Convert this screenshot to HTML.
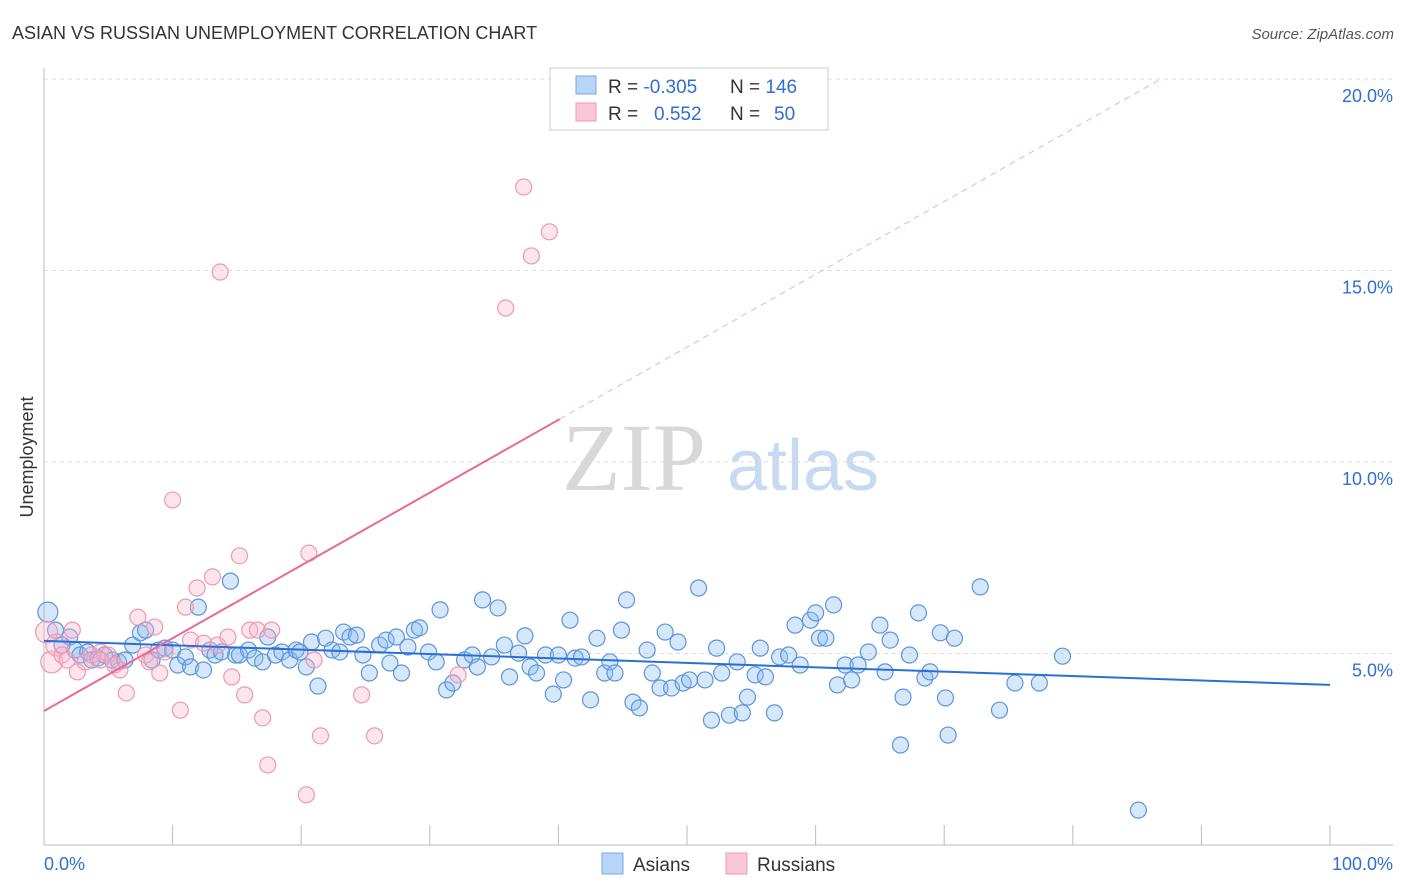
<!DOCTYPE html>
<html><head><meta charset="utf-8"><style>
html,body{margin:0;padding:0;background:#fff;}
svg{display:block;font-family:"Liberation Sans",sans-serif;}
</style></head><body>
<svg id="chart" width="1406" height="892">
<text x="12" y="39" font-size="18" fill="#333">ASIAN VS RUSSIAN UNEMPLOYMENT CORRELATION CHART</text>
<text x="1394" y="39" font-size="15" fill="#555" font-style="italic" text-anchor="end">Source: ZipAtlas.com</text>
<text transform="translate(33,457) rotate(-90)" font-size="18" fill="#333" text-anchor="middle">Unemployment</text>
<g>
<text x="634" y="490" font-size="96" font-family="Liberation Serif,serif" fill="#d8d8d8" text-anchor="middle">ZIP</text>
<text x="803" y="490" font-size="72" fill="#c7daf0" text-anchor="middle">atlas</text>
</g>
<g id="grid"></g>
<g id="axes"></g>
<g id="marks"></g>
<g>
<rect x="550" y="68" width="278" height="62" fill="#fff" stroke="#ccc"/>
<rect x="576" y="76" width="20" height="18" fill="#b8d4f6" stroke="#7aa8e0"/>
<rect x="576" y="103" width="20" height="18" fill="#f9c6d5" stroke="#ee9ab4"/>
<text x="608" y="93" font-size="19" fill="#333">R = <tspan fill="#2f6fd0">-0.305</tspan></text>
<text x="730" y="93" font-size="19" fill="#333">N = <tspan fill="#2f6fd0">146</tspan></text>
<text x="608" y="120" font-size="19" fill="#333">R = <tspan fill="#2f6fd0" x="654">0.552</tspan></text>
<text x="730" y="120" font-size="19" fill="#333">N = <tspan fill="#2f6fd0" x="774">50</tspan></text>
</g>
<g>
<rect x="602" y="853" width="21" height="21" fill="#b8d4f6" stroke="#7aa8e0"/>
<text x="633" y="871" font-size="19" fill="#333">Asians</text>
<rect x="726" y="853" width="21" height="21" fill="#f9c6d5" stroke="#ee9ab4"/>
<text x="757" y="871" font-size="19" fill="#333">Russians</text>
</g>
</svg>
<script>
const yTicks=[5,10,15,20];
const yTickLabels=["5.0%","10.0%","15.0%","20.0%"];
const xTicks=[0,10,20,30,40,50,60,70,80,90,100];
const asianX=[0.3,0.9,1.4,2.0,2.4,2.8,3.4,3.7,4.2,4.7,5.3,5.8,6.3,6.9,7.5,7.9,8.4,8.9,9.4,10.0,10.4,11.0,11.4,12.0,12.4,12.9,13.3,13.8,14.5,14.9,15.2,15.9,16.4,17.0,17.4,18.0,18.5,19.1,19.6,19.9,20.4,20.8,21.3,21.9,22.4,23.0,23.3,23.8,24.3,24.8,25.3,26.1,26.6,26.9,27.4,27.8,28.3,28.8,29.2,29.9,30.5,30.8,31.3,31.8,32.7,33.3,33.7,34.1,34.8,35.3,35.8,36.2,36.9,37.4,37.8,38.3,39.0,39.6,40.0,40.4,40.9,41.3,41.8,42.5,43.0,43.6,44.0,44.4,44.9,45.3,45.8,46.3,46.9,47.3,47.9,48.3,48.8,49.3,49.7,50.2,50.9,51.4,51.9,52.3,52.7,53.3,53.9,54.3,54.7,55.3,55.7,56.1,56.8,57.2,57.9,58.4,58.8,59.6,60.0,60.3,60.8,61.4,61.7,62.3,62.8,63.3,64.1,65.0,65.4,65.8,66.6,66.8,67.3,68.0,68.5,68.9,69.7,70.1,70.3,70.8,72.8,74.3,75.5,77.4,79.2,85.1];
const asianY=[6.08,5.61,5.22,5.43,5.09,4.96,5.04,4.83,4.88,4.96,4.83,4.78,4.83,5.22,5.54,5.61,4.83,5.09,5.14,5.09,4.70,4.91,4.65,6.21,4.57,5.09,4.96,5.04,6.89,4.96,4.96,5.09,4.88,4.78,5.43,4.96,5.04,4.83,5.09,5.04,4.65,5.30,4.15,5.40,5.09,5.04,5.56,5.43,5.48,4.96,4.49,5.22,5.35,4.75,5.43,4.49,5.17,5.61,5.67,5.04,4.78,6.14,4.05,4.23,4.83,4.96,4.65,6.40,4.91,6.19,5.22,4.39,5.01,5.46,4.65,4.49,4.96,3.94,4.96,4.31,5.87,4.88,4.91,3.79,5.40,4.49,4.78,4.49,5.61,6.40,3.73,3.58,5.09,4.49,4.10,5.56,4.10,5.30,4.23,4.31,6.71,4.31,3.26,5.14,4.49,3.39,4.78,3.45,3.86,4.44,5.14,4.39,3.45,4.91,4.96,5.74,4.70,5.87,6.06,5.40,5.40,6.27,4.18,4.70,4.31,4.70,5.04,5.74,4.52,5.35,2.61,3.86,4.96,6.06,4.36,4.52,5.54,3.84,2.87,5.40,6.74,3.52,4.23,4.23,4.93,0.91];
const russX=[0.2,0.6,1.0,1.4,1.8,2.2,2.6,3.2,3.7,4.4,5.0,5.5,5.9,6.4,7.3,7.9,8.2,8.6,9.0,9.4,10.0,10.6,11.0,11.4,11.9,12.4,13.1,13.5,13.7,14.3,14.6,15.2,15.6,16.0,16.6,17.0,17.4,17.7,20.4,20.6,21.0,21.5,24.7,25.7,32.2,35.9,37.3,37.9,39.3,4.4];
const russY=[5.56,4.78,5.22,4.96,4.83,5.61,4.52,4.78,4.96,5.04,4.96,4.70,4.57,3.97,5.95,4.96,4.78,5.69,4.49,5.04,9.01,3.52,6.21,5.35,6.71,5.27,7.00,5.22,14.96,5.43,4.39,7.55,3.92,5.61,5.61,3.32,2.09,5.61,1.31,7.62,4.83,2.85,3.92,2.85,4.44,14.02,17.18,15.38,16.01,4.83];
const asianTrend=[5.33,4.18];
const russTrend=[3.5,0.19];
const NS="http://www.w3.org/2000/svg";
const X0=44,X1=1330,Y0=845,PX=38.3;
function sx(v){return X0+(X1-X0)*v/100;}
function sy(v){return Y0-v*PX;}
function mk(tag,attrs,parent){const e=document.createElementNS(NS,tag);for(const k in attrs)e.setAttribute(k,attrs[k]);parent.appendChild(e);return e;}
const grid=document.getElementById('grid'),axes=document.getElementById('axes'),marks=document.getElementById('marks');
yTicks.forEach((t,i)=>{
 const l=mk('line',{x1:X0,x2:1393,y1:sy(t),y2:sy(t),stroke:'#ddd','stroke-dasharray':'4,4'},grid);
 
 
 const tx=mk('text',{x:1393,y:sy(t)+23,'font-size':18,fill:'#2f6fd0','text-anchor':'end'},axes);
 tx.textContent=yTickLabels[i];
 
 
});
const ya=mk('line',{x1:X0,x2:X0,y1:68,y2:Y0,stroke:'#bbb'},axes);


const xa=mk('line',{x1:X0,x2:1393,y1:Y0,y2:Y0,stroke:'#bbb'},axes);


xTicks.forEach(t=>{
 const l=mk('line',{x1:sx(t),x2:sx(t),y1:Y0-20,y2:Y0,stroke:'#bbb'},axes);
 
 
});
[['0.0%',44,'start'],['100.0%',1393,'end']].forEach(a=>{
 const t=mk('text',{x:a[1],y:870,'font-size':18,fill:'#2f6fd0','text-anchor':a[2]},axes);
 t.textContent=a[0];
 
 
});
asianX.forEach((x,i)=>{
 const r=(i===0)?10:8;
 const c=mk('circle',{cx:sx(x),cy:sy(asianY[i]),r:r,fill:'rgba(140,185,240,0.35)',stroke:'#5b95dc','stroke-width':1.2},marks);
 
 
});
russX.forEach((x,i)=>{
 const r=(i<3)?11:8;
 const c=mk('circle',{cx:sx(x),cy:sy(russY[i]),r:r,fill:'rgba(248,180,200,0.35)',stroke:'#ee98b3','stroke-width':1.2},marks);
 
 
});
const at=mk('line',{x1:sx(0),y1:sy(asianTrend[0]),x2:sx(100),y2:sy(asianTrend[1]),stroke:'#2a6fd6','stroke-width':2},marks);


const rEnd=40.1;
const rt=mk('line',{x1:sx(0),y1:sy(russTrend[0]),x2:sx(rEnd),y2:sy(russTrend[0]+russTrend[1]*rEnd),stroke:'#e86a95','stroke-width':2},marks);


const xEnd=(20-russTrend[0])/russTrend[1];
const rd=mk('line',{x1:sx(rEnd),y1:sy(russTrend[0]+russTrend[1]*rEnd),x2:sx(xEnd),y2:sy(20),stroke:'#f0b0c4','stroke-width':1,'stroke-dasharray':'6,5'},marks);


</script>
</body></html>
